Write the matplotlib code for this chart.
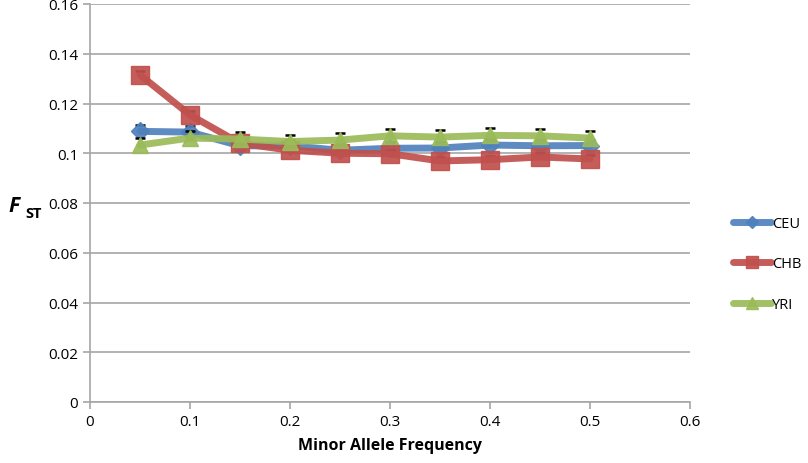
import matplotlib
matplotlib.use("Agg")
import matplotlib.pyplot as plt

maf = [0.05, 0.1, 0.15, 0.2, 0.25, 0.3, 0.35, 0.4, 0.45, 0.5]
ceu = [0.1088, 0.1085, 0.1030, 0.1030, 0.1012, 0.1020, 0.1021, 0.1033, 0.1030, 0.1031]
chb = [0.1315, 0.1154, 0.1040, 0.1012, 0.1000, 0.0998, 0.0969, 0.0974, 0.0985, 0.0977]
yri = [0.1033, 0.1061, 0.1057, 0.1047, 0.1053, 0.1070, 0.1065, 0.1072, 0.1070, 0.1061]
ceu_err = [0.0024] * 10
chb_err = [0.0015] * 10
yri_err = [0.0028] * 10

series = [("CEU", ceu, ceu_err, "#4F81BD", "D", 9),
          ("CHB", chb, chb_err, "#C0504D", "s", 13),
          ("YRI", yri, yri_err, "#9BBB59", "^", 12)]

plt.rcParams['font.family'] = ['Open Sans', 'DejaVu Sans']
fig = plt.figure(figsize=(8.08, 4.64), dpi=100)
ax = fig.add_axes([90/808, 1-403/464, 600/808, 398/464])

for i, (name, vals, err, col, mk, ms) in enumerate(series):
    tops = [v + e for v, e in zip(vals, err)]
    ax.plot(maf, tops, ls='none', marker='_', ms=7, mew=1.8, color='black', zorder=2.5 + i)
    ax.plot(maf, vals, color=col, lw=5, marker=mk, ms=ms, mfc=col, mec=col,
            mew=1, label=name, zorder=3 + i, solid_capstyle='round', alpha=0.92)

ax.set_xlim(0, 0.6)
ax.set_ylim(0, 0.16)
ax.set_xticks([0, 0.1, 0.2, 0.3, 0.4, 0.5, 0.6])
ax.set_xticklabels(['0', '0.1', '0.2', '0.3', '0.4', '0.5', '0.6'])
ax.set_yticks([i*0.02 for i in range(9)])
ax.set_yticklabels(['0', '0.02', '0.04', '0.06', '0.08', '0.1', '0.12', '0.14', '0.16'])
ax.yaxis.grid(True, color='#A6A6A6', lw=1.2)
ax.set_axisbelow(True)
for s in ['top', 'right']:
    ax.spines[s].set_visible(False)
for s in ['left', 'bottom']:
    ax.spines[s].set_color('#A6A6A6')
    ax.spines[s].set_linewidth(1.2)
ax.tick_params(axis='both', colors='#A6A6A6', labelcolor='black', labelsize=11,
               length=5, width=1.2, direction='out')
ax.set_xlabel('Minor Allele Frequency', fontsize=11.5, fontweight='bold', labelpad=6)

fig.text(8/808, 1-206/464, 'F', fontsize=15, fontweight='bold', style='italic', va='center', ha='left')
fig.text(25/808, 1-214/464, 'ST', fontsize=10.5, fontweight='bold', va='center', ha='left')

ax.legend(loc='center left', bbox_to_anchor=(733/808, 1-265/464),
          bbox_transform=fig.transFigure, frameon=False, fontsize=10.5,
          handlelength=2.6, handletextpad=0.1, labelspacing=1.75, markerscale=0.7,
          borderaxespad=0, borderpad=0)

fig.savefig('out.png', dpi=100)
